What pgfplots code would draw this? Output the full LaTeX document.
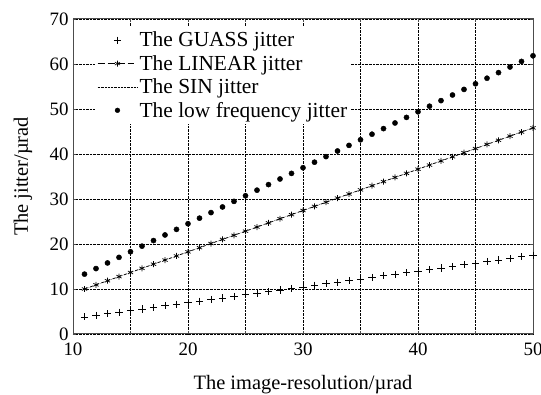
\documentclass[border=0pt]{standalone}
\usepackage{pgfplots}
\pgfplotsset{compat=1.18}
\usepackage{pgfplotstable}
\usepackage{fontspec}
\setmainfont{Liberation Serif}
\pgfplotstableread{
x g l f
11 3.80 10.00 13.30
12 4.15 10.92 14.54
13 4.50 11.84 15.79
14 4.85 12.75 17.03
15 5.20 13.67 18.28
16 5.56 14.59 19.52
17 5.91 15.51 20.76
18 6.26 16.43 22.01
19 6.61 17.34 23.25
20 6.96 18.26 24.50
21 7.31 19.18 25.74
22 7.66 20.10 26.98
23 8.01 21.02 28.23
24 8.36 21.93 29.47
25 8.71 22.85 30.72
26 9.07 23.77 31.96
27 9.42 24.69 33.20
28 9.77 25.61 34.45
29 10.12 26.52 35.69
30 10.47 27.44 36.94
31 10.82 28.36 38.18
32 11.17 29.28 39.42
33 11.52 30.20 40.67
34 11.87 31.11 41.91
35 12.22 32.03 43.16
36 12.58 32.95 44.40
37 12.93 33.87 45.64
38 13.28 34.79 46.89
39 13.63 35.70 48.13
40 13.98 36.62 49.38
41 14.33 37.54 50.62
42 14.68 38.46 51.86
43 15.03 39.38 53.11
44 15.38 40.29 54.35
45 15.73 41.21 55.60
46 16.09 42.13 56.84
47 16.44 43.05 58.08
48 16.79 43.97 59.33
49 17.14 44.88 60.57
50 17.49 45.80 61.82
}\data
\begin{document}
\begin{tikzpicture}
\begin{axis}[
  name=ax,
  scale only axis, width=460bp, height=315bp,
  xmin=10, xmax=50, ymin=0, ymax=70,
  xtick={10,20,...,50}, minor xtick={15,25,35,45},
  ytick={0,10,...,70},
  grid=both,
  major grid style={black, densely dotted, line width=0.7pt},
  minor grid style={black, densely dotted, line width=0.7pt},
  tick align=inside, major tick length=3pt, minor tick length=3pt,
  tick style={black!70},
  axis line style={black!70, line width=1pt},
  /pgf/number format/assume math mode=true,
  tick label style={font=\fontsize{19}{22}\selectfont},
  xticklabel style={yshift=-5pt},
  yticklabel style={xshift=-1pt},
  label style={font=\fontsize{20.5}{24}\selectfont},
  xlabel={The image-resolution/µrad},
  ylabel={The jitter/µrad},
  xlabel style={at={(axis description cs:0.5,-0.16)}, anchor=center},
  ylabel style={at={(axis description cs:-0.109,0.5)}, anchor=center},
  legend style={at={(0.048,0.975)}, anchor=north west, draw=none, fill=white,
    font=\fontsize{21.5}{25}\selectfont, row sep=3pt, inner xsep=2pt, inner ysep=3pt,
    cells={anchor=west}, /tikz/every even column/.append style={column sep=2pt}},
]
\addplot[only marks, mark=+, mark size=3.6pt, black, line width=0.75pt, forget plot] table[x=x,y=g] {\data};
\addplot[black, line width=0.7pt, dashed, mark=asterisk, mark size=3pt, mark options={solid, line width=0.7pt}, forget plot] table[x=x,y=l] {\data};
\addplot[black, line width=0.5pt, densely dotted, forget plot] table[x=x,y=l] {\data};
\addplot[only marks, mark=*, mark size=2.6pt, black, forget plot] table[x=x,y=f] {\data};
\addlegendimage{legend image code/.code={\path[black, line width=0.6pt] plot[mark=+, mark size=3.6pt] coordinates {(0.7cm,0cm)};}}
\addlegendentry{The GUASS jitter}
\addlegendimage{legend image code/.code={\draw[black, line width=0.7pt, dash pattern=on 7pt off 3pt] (0cm,0cm) -- (1.4cm,0cm); \path[black, line width=0.6pt] plot[mark=asterisk, mark size=3pt] coordinates {(0.7cm,0cm)};}}
\addlegendentry{The LINEAR jitter}
\addlegendimage{legend image code/.code={\draw[black, line width=0.45pt, densely dotted] (0cm,0cm) -- (1.4cm,0cm);}}
\addlegendentry{The SIN jitter}
\addlegendimage{legend image code/.code={\path[black] plot[mark=*, mark size=2.4pt] coordinates {(0.7cm,0cm)};}}
\addlegendentry{The low frequency jitter}
\end{axis}
\pgfresetboundingbox
\path[use as bounding box] ([xshift=-73bp,yshift=-61bp]ax.south west) rectangle ([xshift=8bp,yshift=19bp]ax.north east);
\end{tikzpicture}
\end{document}
